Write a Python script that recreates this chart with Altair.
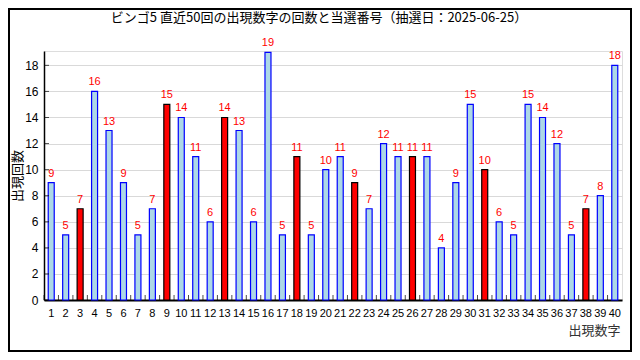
import altair as alt
import pandas as pd

numbers = list(range(1, 41))
counts = [9, 5, 7, 16, 13, 9, 5, 7, 15, 14,
          11, 6, 14, 13, 6, 19, 5, 11, 5, 10,
          11, 9, 7, 12, 11, 11, 11, 4, 9, 15,
          10, 6, 5, 15, 14, 12, 5, 7, 8, 18]
winning = [3, 9, 13, 18, 22, 26, 31, 38]
y_ticks = [0, 2, 4, 6, 8, 10, 12, 14, 16, 18]

title_text = "ビンゴ5 直近50回の出現数字の回数と当選番号（抽選日：2025-06-25）"

df = pd.DataFrame({
    "num": numbers,
    "count": counts,
    "win": ["yes" if n in winning else "no" for n in numbers],
})
tick_df = pd.DataFrame({"count": y_ticks})
single_df = pd.DataFrame({"title": [title_text]})

W, H = 578, 249
PL, PT, PR, PB = 36, 43, 10, 52

x_scale = alt.Scale(paddingInner=0, paddingOuter=0)
x_axis = alt.Axis(title="出現数字", labelAngle=0, labelOverlap=False,
                  ticks=False, labelPadding=7, labelFontSize=11,
                  labelFont="Liberation Sans", labelColor="#000",
                  domainColor="#000", domainWidth=1.8, grid=False,
                  titleFont="Noto Sans CJK JP", titleFontSize=13,
                  titleFontWeight="normal", titleColor="#333",
                  titleX=W - 2, titleY=24, titleAlign="right",
                  titleBaseline="top")
y_scale = alt.Scale(domain=[0, 19.1], nice=False, zero=True)
y_axis = alt.Axis(title="出現回数", values=y_ticks, ticks=False,
                  labelOverlap=False,
                  labelPadding=6, labelFontSize=12,
                  labelFont="Liberation Sans", labelColor="#000",
                  domainColor="#000", domainWidth=1.5,
                  grid=True, gridColor="#d9d9d9", gridWidth=1,
                  titleFont="Noto Sans CJK JP", titleFontSize=13,
                  titleFontWeight="normal", titleColor="#000",
                  titleAngle=270, titleX=-20, titleY=H / 2,
                  titleAlign="center", titleBaseline="bottom")

base = alt.Chart(df)

bars = base.mark_bar(size=6, strokeWidth=1.2).encode(
    x=alt.X("num:O", scale=x_scale, axis=x_axis),
    y=alt.Y("count:Q", scale=y_scale, axis=y_axis),
    fill=alt.Fill("win:N", scale=alt.Scale(domain=["no", "yes"], range=["#add8e6", "#ff0000"]), legend=None),
    stroke=alt.Stroke("win:N", scale=alt.Scale(domain=["no", "yes"], range=["#0000ff", "#000000"]), legend=None),
)

labels = base.mark_text(color="#ff0000", fontSize=11, font="Liberation Sans",
                        baseline="alphabetic", dy=-6).encode(
    x=alt.X("num:O", scale=x_scale, axis=x_axis),
    y=alt.Y("count:Q", scale=y_scale, axis=y_axis),
    text="count:Q",
)

yticks = alt.Chart(tick_df).mark_tick(orient="horizontal", size=5, thickness=1, color="#000").encode(
    y=alt.Y("count:Q", scale=y_scale, axis=y_axis),
    x=alt.value(2.5),
)

xticks = base.mark_tick(orient="vertical", size=5, thickness=1, color="#000").encode(
    x=alt.X("num:O", bandPosition=0, scale=x_scale, axis=x_axis),
    y=alt.value(H - 2.5),
)

title_mark = alt.Chart(single_df).mark_text(
    font="Noto Sans CJK JP", fontSize=13, color="#000", align="center", baseline="bottom"
).encode(
    text="title:N",
    x=alt.value(W / 2 - 14),
    y=alt.value(-26),
)

frame = alt.Chart(single_df).mark_rect(fill=None, stroke="#000", strokeWidth=2).encode(
    x=alt.value(-PL + 1), x2=alt.value(W + PR - 1),
    y=alt.value(-PT + 1), y2=alt.value(H + PB - 1),
)

chart = alt.layer(bars, labels, yticks, xticks, title_mark, frame).properties(
    width=W, height=H,
    autosize=alt.AutoSizeParams(type="none"),
    padding={"left": PL, "top": PT, "right": PR, "bottom": PB},
).configure_view(stroke=None).configure(background="white")

chart.save("out.html", embed_options={"renderer": "svg", "actions": False})
